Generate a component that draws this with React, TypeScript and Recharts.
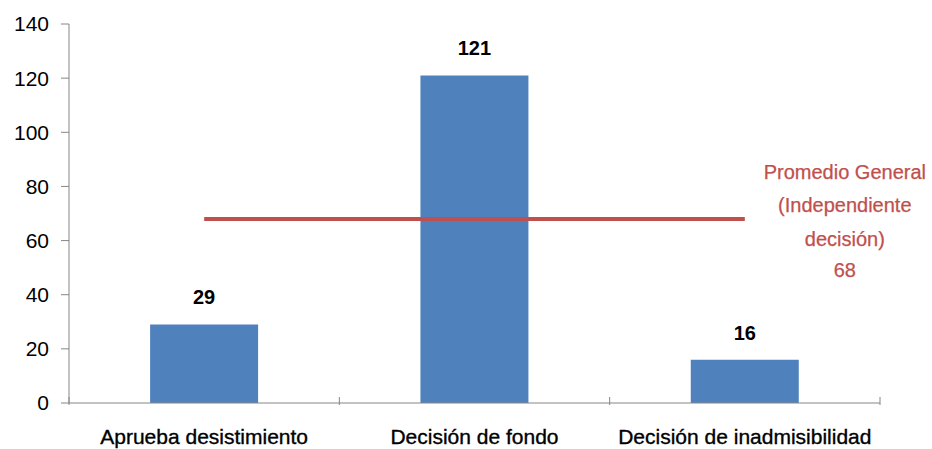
import React from 'react';
import {
  ComposedChart,
  Bar,
  Line,
  XAxis,
  YAxis,
  LabelList,
} from 'recharts';

const categories = ['Aprueba desistimiento', 'Decisión de fondo', 'Decisión de inadmisibilidad'];
const counts = [29, 121, 16];
const promedio = [68, 68, 68];
const promedioLines = ['Promedio General', '(Independiente', 'decisión)', '68'];
const yTicks = [0, 20, 40, 60, 80, 100, 120, 140];

const data = categories.map((name, i) => ({
  name,
  count: counts[i],
  avg: promedio[i],
}));

const FONT = '"Liberation Sans", Arial, sans-serif';
const AXIS = '#868686';
const RED = '#C0504D';

// category ticks sit between bars in the original, so draw the mark at the band edge
const XTick = (props: any) => {
  const { x, y, payload, index } = props;
  const half = payload?.offset || 135;
  return (
    <g>
      <line x1={x - half} y1={y - 14} x2={x - half} y2={y - 6} stroke={AXIS} />
      {index === categories.length - 1 && (
        <line x1={x + half} y1={y - 14} x2={x + half} y2={y - 6} stroke={AXIS} />
      )}
      <text
        x={x}
        y={y + 33}
        textAnchor="middle"
        fontFamily={FONT}
        fontSize={21}
        fill="#000"
        stroke="#000"
        strokeWidth={0.35}
      >
        {payload.value}
      </text>
    </g>
  );
};

const PromedioLabel = (props: any) => {
  const { x, y, index } = props;
  if (index !== promedio.length - 1) return null;
  const offsets = [-40, -7, 27, 58];
  return (
    <g>
      {promedioLines.map((t, i) => (
        <text
          key={t}
          x={x + 100}
          y={y + offsets[i]}
          textAnchor="middle"
          fontFamily={FONT}
          fontSize={20}
          fill={RED}
          stroke={RED}
          strokeWidth={0.25}
        >
          {t}
        </text>
      ))}
    </g>
  );
};

export default function App() {
  return (
    <div style={{ width: 932, height: 449, background: '#fff' }}>
      <style>{`body { margin: 0; }`}</style>
      <ComposedChart
        width={932}
        height={449}
        data={data}
        margin={{ top: 24, right: 52, bottom: 0, left: 0 }}
        barCategoryGap="30%"
      >
        <XAxis
          dataKey="name"
          height={46}
          axisLine={{ stroke: AXIS }}
          tickLine={false}
          tick={<XTick />}
          interval={0}
        />
        <YAxis
          width={69}
          domain={[0, 140]}
          ticks={yTicks}
          interval={0}
          axisLine={{ stroke: AXIS }}
          tickLine={{ stroke: AXIS }}
          tickSize={8}
          tickMargin={12}
          tick={{ fontFamily: FONT, fontSize: 21, fill: '#000' }}
        />
        <Bar dataKey="count" fill="#4F81BD" isAnimationActive={false}>
          <LabelList
            dataKey="count"
            position="top"
            offset={20}
            style={{ fontFamily: FONT, fontSize: 20, fontWeight: 'bold', fill: '#000' }}
          />
        </Bar>
        <Line
          dataKey="avg"
          stroke={RED}
          strokeWidth={4}
          dot={false}
          activeDot={false}
          isAnimationActive={false}
        >
          <LabelList dataKey="avg" content={<PromedioLabel />} />
        </Line>
      </ComposedChart>
    </div>
  );
}
